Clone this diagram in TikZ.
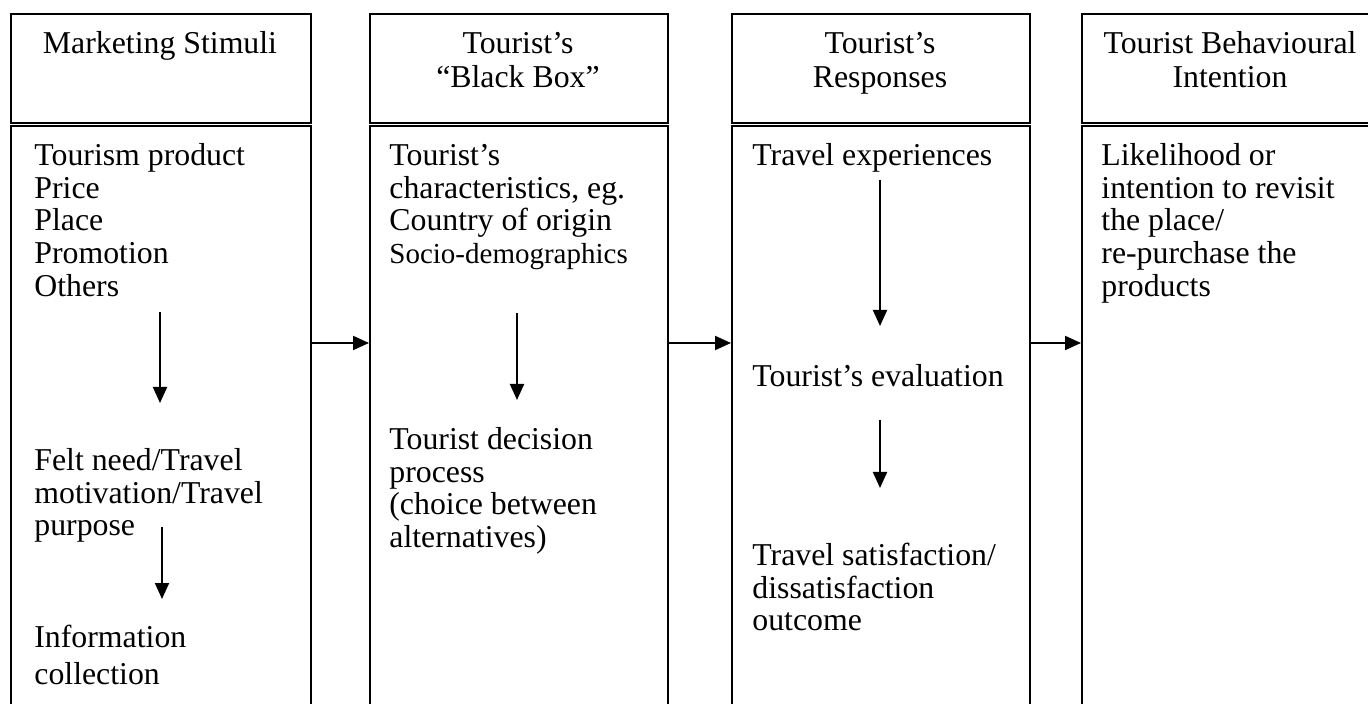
\documentclass[tikz,border=0pt]{standalone}
\usepackage{fontspec}
\setmainfont{Liberation Serif}
\usetikzlibrary{arrows.meta}
\newcommand\bodyfont{\fontsize{15.9}{16.4}\selectfont}
\newcommand\headfont{\fontsize{15.9}{17}\selectfont}
\newcommand\smallerfont{\fontsize{14.5}{16.4}\selectfont}
\tikzset{
  frame/.style={draw, line width=1pt, inner sep=0pt, anchor=north west, minimum width=150pt},
  headbox/.style={frame, minimum height=54.5pt},
  bodybox/.style={frame, minimum height=320pt},
  flow/.style={line width=1pt, -{Triangle[length=8pt,width=7pt]}},
  bodytext/.style={anchor=north west, inner sep=0pt, align=left, font=\bodyfont},
  headtext/.style={anchor=north, inner sep=0pt, align=center, font=\headfont},
}
\begin{document}
\begin{tikzpicture}[x=0.5pt,y=-0.5pt]
\useasboundingbox (0,0) rectangle (1368,704);

% column frames: header on top, body below
\node[headbox] (h1) at (10,13) {};
\node[bodybox] (b1) at (10,125) {};
\node[headbox, minimum width=149pt] (h2) at (369,13) {};
\node[bodybox, minimum width=149pt] (b2) at (369,125) {};
\node[headbox, minimum width=149pt] (h3) at (731,13) {};
\node[bodybox, minimum width=149pt] (b3) at (731,125) {};
\node[headbox] (h4) at (1081,13) {};
\node[bodybox] (b4) at (1081,125) {};

% headings (first baseline at y = 53)
\node[headtext] (t1) at (160,29) {\strut Marketing Stimuli};
\node[headtext] (t2) at (518,29) {\strut Tourist’s\\“Black Box”};
\node[headtext] (t3) at (880,29) {\strut Tourist’s\\Responses};
\node[headtext] (t4) at (1230,29) {\strut Tourist Behavioural\\Intention};

% column 1
\node[bodytext] (c1a) at (34,142) {\strut Tourism product\\Price\\Place\\Promotion\\Others};
\node[bodytext] (c1b) at (34,447) {\strut Felt need/Travel\\motivation/Travel\\purpose};
\node[bodytext, font=\fontsize{15.9}{18.5}\selectfont] (c1c) at (34,621) {\strut Information\\collection};

% column 2
\node[bodytext] (c2a) at (389,142) {\strut Tourist’s\\characteristics, eg.\\Country of origin\\{\smallerfont Socio-demographics}};
\node[bodytext] (c2b) at (389,426) {\strut Tourist decision\\process\\(choice between\\alternatives)};

% column 3
\node[bodytext] (c3a) at (752,142) {\strut Travel experiences};
\node[bodytext] (c3b) at (752,363) {\strut Tourist’s evaluation};
\node[bodytext] (c3c) at (752,542) {\strut Travel satisfaction/\\dissatisfaction\\outcome};

% column 4
\node[bodytext] (c4a) at (1101,142) {\strut Likelihood or\\intention to revisit\\the place/\\re-purchase the\\products};

% arrow end points inside the columns
\coordinate (row) at (0,343);
\coordinate (d1s) at (160,312); \coordinate (d1e) at (160,403);
\coordinate (d2s) at (162,527); \coordinate (d2e) at (162,599);
\coordinate (d3s) at (517,313); \coordinate (d3e) at (517,400);
\coordinate (d4s) at (880,180); \coordinate (d4e) at (880,326);
\coordinate (d5s) at (880,420); \coordinate (d5e) at (880,488);

% arrows between columns
\draw[flow] (b1.east |- row) -- (b2.west |- row);
\draw[flow] (b2.east |- row) -- (b3.west |- row);
\draw[flow] (b3.east |- row) -- (b4.west |- row);

% arrows within columns
\draw[flow] (d1s) -- (d1e);
\draw[flow] (d2s) -- (d2e);
\draw[flow] (d3s) -- (d3e);
\draw[flow] (d4s) -- (d4e);
\draw[flow] (d5s) -- (d5e);
\end{tikzpicture}
\end{document}
